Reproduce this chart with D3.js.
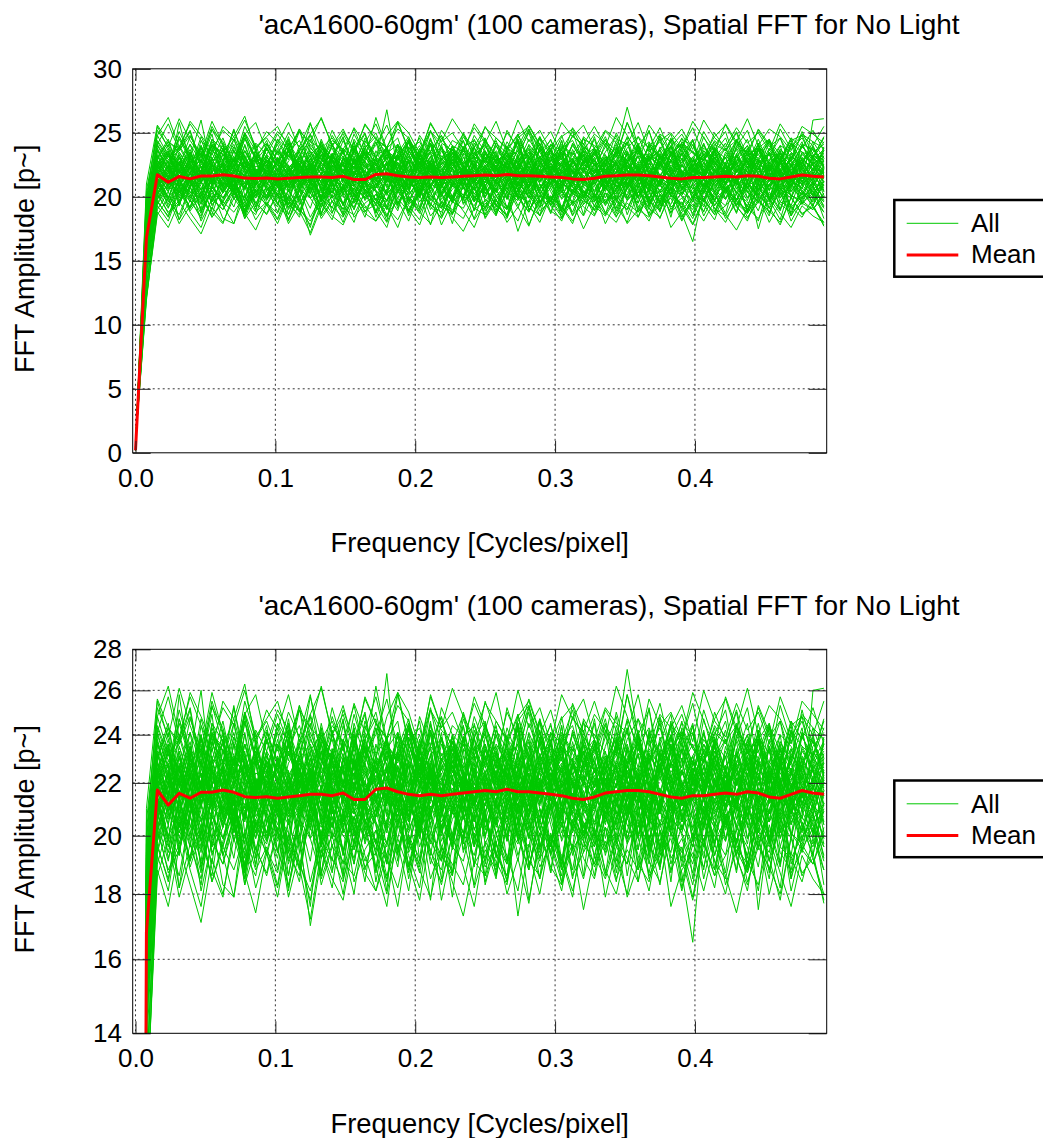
<!DOCTYPE html>
<html><head><meta charset="utf-8">
<script src="https://cdn.jsdelivr.net/npm/d3@7"></script>
<style>body{margin:0;background:#fff}svg text{font-family:"Liberation Sans",Arial,Helvetica,sans-serif;fill:#000}</style>
</head><body><svg id="c" width="1043" height="1138"></svg>
<script>
const titleText = "'acA1600-60gm' (100 cameras), Spatial FFT for No Light";
const xLabel = "Frequency [Cycles/pixel]";
const yLabel = "FFT Amplitude [p~]";
const legendLabels = ["All", "Mean"];
const xTicks = [0, 0.1, 0.2, 0.3, 0.4];
const yTicksLinear = [0, 5, 10, 15, 20, 25, 30];
const yTicksLog = [14, 16, 18, 20, 22, 24, 26, 28];
const freqStep = 1 / 128;

const meanAmp = [0.2, 16.8, 21.72, 21.14, 21.59, 21.40, 21.63, 21.63, 21.72, 21.63, 21.46, 21.43,
  21.46, 21.40, 21.45, 21.50, 21.55, 21.55, 21.50, 21.60, 21.35, 21.35,
  21.75, 21.80, 21.65, 21.55, 21.50, 21.55, 21.50, 21.55, 21.60, 21.65,
  21.70, 21.65, 21.75, 21.65, 21.65, 21.60, 21.55, 21.50, 21.40, 21.35,
  21.45, 21.60, 21.65, 21.70, 21.70, 21.65, 21.55, 21.45, 21.40, 21.50,
  21.50, 21.55, 21.60, 21.55, 21.65, 21.60, 21.45, 21.40, 21.55, 21.70,
  21.60, 21.55];

// amplitude per camera, in tenths of p~, frequency index 0..63
const cameraAmpTenths = [
[4,168,224,209,231,218,205,226,240,212,199,221,208,230,215,197,224,236,211,203,219,228,214,201,233,220,207,225,212,198,222,239,216,204,227,213,200,218,231,209,223,214,197,226,211,235,219,204,228,215,202,220,233,210,224,206,217,229,213,221,208,226,215,219],
[6,152,208,196,214,189,201,220,193,207,185,211,199,216,190,204,223,195,182,209,198,213,187,205,219,194,202,178,210,196,215,200,191,207,184,212,199,221,193,205,188,210,202,195,217,186,208,199,213,190,204,196,222,188,207,193,211,199,185,214,201,197,209,192],
[3,181,236,221,245,229,218,240,226,252,231,215,238,224,247,219,233,241,228,214,237,250,225,239,218,243,230,222,246,234,217,238,229,244,221,236,253,227,215,240,232,224,247,219,235,228,242,216,237,249,223,231,240,226,218,244,233,221,238,229,246,224,235,241],
[5,139,212,198,225,204,191,217,208,226,195,213,201,219,186,207,222,199,210,193,215,204,188,213,226,200,192,218,205,211,197,220,209,186,214,202,224,196,207,190,216,203,211,225,198,206,219,193,212,201,187,165,205,218,199,213,190,208,221,196,210,202,215,197],
[2,197,255,238,224,247,233,259,241,228,250,236,222,245,231,253,239,226,248,234,219,242,257,236,229,245,232,251,238,224,247,233,240,226,252,237,221,246,235,229,254,241,228,244,236,270,239,225,248,233,242,227,251,236,224,245,232,240,228,253,237,246,230,243],
[7,128,197,184,206,191,212,188,179,203,194,186,209,195,183,201,170,192,207,185,198,211,189,176,204,193,182,208,196,187,200,214,183,197,190,206,178,199,211,188,195,202,186,209,193,180,204,197,189,212,184,199,207,191,185,203,196,181,210,194,188,205,192,180],
[4,173,241,226,210,233,219,245,228,214,236,222,209,231,217,240,225,211,234,220,243,216,229,268,221,207,238,224,213,232,218,245,227,212,236,221,209,239,226,215,242,230,218,233,211,227,240,223,208,235,219,231,214,238,225,210,234,221,243,216,229,212,226,233],
[3,160,219,204,231,212,198,225,209,237,201,216,228,194,213,206,222,199,234,211,203,220,207,226,193,215,230,204,218,197,224,211,200,217,233,205,221,196,210,227,202,214,231,199,216,208,223,194,212,229,205,218,196,221,209,234,203,215,198,226,212,207,260,261],
[5,145,215,192,207,224,198,186,212,203,219,195,208,188,214,226,199,205,191,217,202,184,211,197,220,206,189,215,201,223,194,208,186,213,199,221,204,192,218,207,195,211,200,216,189,209,223,197,205,187,214,202,219,193,208,198,212,175,204,190,216,199,207,183],
[6,186,229,214,258,226,211,237,222,208,241,219,232,215,244,221,206,238,227,213,235,249,218,231,210,236,224,246,213,229,220,239,207,233,222,245,216,228,240,211,234,225,219,242,213,230,237,221,209,235,226,244,215,230,238,223,211,236,227,219,242,214,233,225],
[8,119,193,181,205,188,176,199,190,207,183,196,186,202,179,194,208,185,197,180,203,191,199,184,206,190,178,201,193,186,209,182,195,188,203,173,197,185,200,192,179,204,189,198,184,207,193,181,202,188,196,183,205,191,180,199,187,203,192,178,200,186,194,177],
[4,171,222,236,214,231,260,219,242,208,227,215,238,221,209,233,218,245,224,212,230,207,236,219,241,213,226,234,210,239,222,217,231,208,225,243,216,229,211,237,220,233,214,228,239,221,207,232,224,246,213,226,219,235,211,228,240,217,223,209,234,221,212,238],
[5,178,210,224,199,215,206,190,221,213,197,228,204,192,218,209,225,196,212,187,220,206,195,214,203,229,191,210,217,200,224,208,216,197,211,223,189,206,219,201,213,194,222,207,198,215,226,203,190,217,209,221,196,213,205,188,219,210,227,199,212,204,193,216],
[3,194,248,232,219,241,227,253,236,222,245,230,218,243,229,251,235,221,240,226,249,233,224,238,246,220,234,252,228,215,239,244,231,217,237,249,226,242,223,235,211,247,238,225,250,233,219,241,229,244,236,222,247,230,218,239,252,227,234,216,241,229,237,224],
[6,155,203,219,233,207,194,216,225,201,212,189,221,208,197,226,213,200,218,193,229,211,204,190,220,214,199,227,209,196,215,223,202,218,191,210,228,205,197,221,213,186,217,204,225,199,211,230,194,208,220,203,214,197,226,209,192,218,205,231,200,215,208,196],
[4,182,226,209,218,235,212,199,229,221,206,238,215,227,204,219,233,210,224,201,231,216,222,237,213,205,228,219,241,208,225,212,234,217,203,226,214,239,207,222,230,211,225,213,236,209,221,204,227,240,216,223,206,231,218,212,236,205,224,219,229,211,222,228],
[7,141,205,191,213,198,183,209,196,215,187,202,194,210,181,206,199,217,188,203,192,211,197,185,208,201,214,190,204,179,211,196,208,193,186,212,200,191,215,183,205,198,190,207,196,211,184,203,217,192,199,187,209,200,193,214,189,206,198,182,211,195,203,188],
[5,188,231,245,219,226,240,213,234,221,248,217,229,214,238,225,211,243,220,232,216,237,226,212,241,228,219,235,207,230,244,222,215,236,228,210,233,247,221,226,214,239,224,231,218,243,212,229,237,220,233,215,241,225,210,232,222,238,216,229,244,219,230,224],
[4,163,198,215,182,209,224,193,206,217,188,212,201,220,194,186,211,227,199,208,190,215,204,181,219,197,210,225,192,206,214,189,221,200,212,193,207,185,218,204,196,223,199,214,187,208,220,195,211,184,217,206,192,222,203,214,188,209,199,220,185,211,204,196],
[2,201,252,239,261,244,231,255,240,227,249,258,236,251,242,229,257,238,246,233,254,241,230,248,259,237,243,226,252,240,235,257,244,231,250,239,256,241,228,247,253,236,249,242,233,258,240,251,229,245,238,254,232,247,256,241,235,252,239,246,230,249,243,238],
[6,135,202,188,197,214,190,205,183,179,209,195,187,203,196,184,211,192,200,186,207,193,181,198,210,189,204,195,183,201,208,190,197,185,212,199,188,206,193,181,203,196,209,187,200,192,184,207,198,213,189,201,194,182,206,197,188,210,191,203,185,199,208,193],
[5,176,219,234,207,228,215,241,224,211,236,220,227,212,239,218,230,205,224,237,213,229,243,216,225,209,233,221,238,214,226,231,217,240,223,208,229,235,219,244,212,227,234,215,228,221,239,206,231,218,225,213,236,224,211,233,219,242,215,228,206,231,220,236],
[3,190,238,222,247,231,219,243,228,253,226,214,241,229,218,236,248,224,233,215,245,230,262,237,222,244,231,217,239,226,250,235,220,242,229,236,214,247,232,223,240,227,245,218,234,241,226,252,221,238,229,244,217,235,246,223,231,240,219,237,228,251,233,226],
[6,158,195,211,204,220,188,207,199,215,192,209,217,201,186,210,223,197,205,190,214,202,188,216,207,195,221,203,191,212,199,225,206,189,214,201,196,218,187,209,222,200,211,196,205,219,190,213,202,194,216,185,207,221,198,212,204,189,215,207,193,218,200,212],
[4,170,214,228,201,219,236,208,223,212,197,229,210,222,205,231,216,199,227,213,238,204,219,208,233,215,201,226,220,209,234,197,223,213,228,204,218,231,210,225,203,219,236,212,200,225,217,209,232,214,221,198,227,215,231,206,222,213,235,201,218,224,209,221],
[8,122,188,176,196,183,171,192,180,199,187,174,194,182,201,189,172,195,185,178,198,187,181,193,176,200,188,179,195,184,173,191,186,198,180,192,177,201,189,183,196,175,193,185,199,179,190,184,202,176,188,194,181,197,186,174,191,183,199,187,176,193,185,180],
[3,184,243,229,236,251,222,240,233,218,246,231,224,245,237,216,241,229,252,235,221,238,247,226,233,242,219,236,248,228,239,222,244,233,218,249,230,241,225,237,251,226,232,245,221,238,247,229,236,217,243,234,228,240,251,225,237,230,244,221,239,248,229,237],
[5,166,208,223,215,196,229,211,204,219,233,201,216,207,225,194,212,221,203,230,209,198,218,227,205,214,199,223,211,232,206,217,200,213,226,208,221,195,216,209,228,212,204,219,197,225,211,207,233,200,217,223,210,203,218,227,199,214,208,222,204,217,226,205],
[2,205,248,262,239,257,244,233,255,247,263,236,251,242,258,237,249,261,240,253,235,256,245,238,259,250,234,257,243,261,248,239,254,246,237,260,243,252,236,258,247,241,255,239,262,248,233,256,244,250,238,259,246,235,257,243,261,240,253,247,236,255,249,242],
[7,147,196,185,209,191,202,184,198,213,189,205,193,208,182,199,214,187,201,195,180,206,198,191,210,185,203,194,188,209,199,183,207,194,186,212,190,201,197,184,206,192,185,203,198,190,211,186,195,207,182,200,197,188,212,193,181,204,196,209,187,195,190,201],
[4,177,232,214,226,207,221,239,216,228,210,235,219,227,241,212,224,206,230,218,237,215,223,211,234,226,203,229,217,240,213,225,236,220,209,231,222,215,238,207,226,233,214,229,221,206,235,218,227,243,211,224,216,239,225,210,230,223,208,234,219,227,213,230],
[6,150,201,217,193,225,208,196,214,203,188,219,207,194,221,212,199,186,216,205,224,197,210,203,189,218,206,227,195,211,201,215,190,209,221,198,213,204,187,220,208,199,216,193,207,222,200,211,195,218,203,209,188,214,206,197,223,202,191,215,209,198,219,204],
[5,187,225,241,218,234,227,249,213,236,222,230,244,219,232,226,211,238,229,247,216,235,224,239,213,231,246,220,228,237,215,242,226,233,219,245,230,212,236,224,241,227,218,235,248,222,231,214,239,226,233,245,220,231,217,238,226,245,223,236,212,240,228,234],
[3,172,217,204,228,211,196,223,209,230,214,201,225,210,198,219,232,205,216,227,202,213,229,207,221,195,214,226,203,218,210,231,199,222,213,206,227,210,194,219,224,208,215,229,203,218,211,196,226,214,205,221,233,208,219,202,216,228,197,213,225,209,218,214],
[7,131,190,204,182,197,185,208,193,179,201,188,196,183,205,191,178,199,187,210,184,195,202,186,197,181,206,192,184,200,189,176,198,191,183,207,194,180,201,188,197,185,203,179,196,190,208,185,193,199,181,197,189,204,183,195,187,200,180,196,192,184,199,188],
[4,180,228,215,239,223,210,234,219,245,226,213,231,220,242,208,227,236,216,229,222,240,212,233,225,218,238,207,230,221,244,216,229,235,211,226,240,219,232,214,227,236,221,210,237,228,216,242,223,209,234,220,229,243,218,225,212,237,226,232,215,241,224,218],
[6,160,211,197,186,208,219,194,203,215,189,206,198,213,191,204,222,187,209,200,195,216,184,205,218,197,190,211,203,186,214,199,208,192,217,201,188,210,196,223,193,205,199,186,213,204,195,218,189,207,201,192,215,198,206,187,211,200,194,217,190,203,196,209],
[3,199,241,257,236,248,230,252,243,227,255,238,246,233,250,239,258,229,244,237,253,232,240,256,234,247,225,251,242,236,249,231,255,240,228,246,253,235,244,230,248,239,233,251,242,226,247,238,254,233,245,240,229,250,237,244,232,253,241,227,246,238,252,236],
[5,164,206,221,194,213,200,226,208,192,217,204,212,199,223,207,191,218,203,214,197,228,205,193,216,209,224,198,211,187,220,206,214,201,190,219,207,225,196,212,203,217,192,210,220,199,214,205,188,221,208,196,217,204,227,193,210,201,219,190,213,207,199,222],
[4,175,224,209,233,217,240,212,226,219,205,231,216,238,221,210,229,243,214,225,208,236,220,213,231,245,218,206,227,222,239,211,224,232,215,228,207,237,221,230,213,242,226,219,208,234,223,240,212,228,217,231,204,225,238,216,229,211,235,220,226,214,232,219],
[7,126,203,187,195,209,181,198,190,204,185,211,194,179,200,188,207,183,196,191,186,203,210,192,182,199,187,205,178,196,191,208,184,200,193,181,204,189,197,210,186,194,202,188,180,197,206,191,184,201,195,179,199,186,207,192,183,198,188,206,181,197,190,203],
[4,183,237,221,230,214,244,226,218,239,223,233,212,228,245,220,235,217,231,224,240,215,227,238,219,232,210,242,225,234,216,229,241,222,236,213,230,246,218,227,235,221,238,212,229,243,217,232,224,215,239,228,222,236,214,231,245,219,228,240,213,233,226,218],
[5,169,213,199,222,208,229,196,215,206,224,203,219,211,194,226,205,217,200,231,209,214,197,222,210,203,227,193,216,208,221,202,212,225,198,216,207,222,204,189,219,211,226,205,214,197,223,209,218,202,230,206,213,196,221,210,204,227,199,215,208,223,201,217],
[3,192,240,226,251,233,219,245,237,224,249,231,242,228,236,253,221,240,232,246,225,238,250,229,258,236,222,244,231,239,226,248,235,221,243,230,252,238,227,241,233,246,224,239,231,258,236,228,247,222,241,235,229,244,236,250,225,239,232,246,223,241,237,228],
[6,153,209,194,213,202,187,216,199,208,221,192,205,214,197,189,211,203,219,194,207,200,215,190,204,218,196,209,185,213,201,222,197,206,191,215,203,210,198,186,214,205,193,211,202,219,188,207,196,213,200,190,210,197,216,204,193,211,187,208,201,195,212,199],
[4,171,221,235,208,226,213,219,238,204,229,216,224,209,233,218,202,227,215,236,211,223,230,214,221,207,234,219,226,212,239,208,217,229,222,200,231,216,224,211,237,219,213,225,233,208,220,229,214,236,205,222,218,231,210,224,217,237,212,226,220,206,228,215],
[8,121,186,199,179,193,204,184,196,188,201,182,195,187,206,190,181,198,192,184,203,189,194,180,199,188,207,185,196,190,183,201,189,197,184,205,191,186,200,193,181,198,190,203,185,195,188,199,183,206,192,178,197,186,193,202,184,196,189,180,199,187,192,178],
[5,181,217,233,226,211,240,222,214,236,228,209,231,220,215,238,224,207,232,219,243,213,225,236,210,229,221,241,216,227,209,234,222,215,239,226,213,232,220,244,211,228,237,219,226,213,241,224,210,233,218,229,224,212,235,221,206,238,227,215,232,224,217,239],
[5,162,214,200,193,219,206,211,225,198,208,190,216,204,221,197,176,210,203,226,195,213,207,219,191,214,202,224,209,196,218,205,221,193,211,226,199,207,215,189,212,203,196,217,209,201,224,192,213,206,220,198,211,203,187,216,208,223,197,210,204,217,193,212],
[2,210,256,243,237,259,248,236,252,244,260,239,247,255,238,251,243,262,240,249,234,257,245,239,253,246,231,258,243,250,237,254,242,259,236,248,255,240,251,233,247,256,238,252,245,241,258,235,249,243,253,237,260,246,239,254,242,250,236,257,244,248,240,255],
[5,170,218,227,209,223,214,231,206,220,225,212,229,217,208,224,219,233,211,226,215,221,207,228,216,234,213,222,210,227,219,205,224,231,214,220,209,226,218,235,212,223,217,206,229,221,214,232,208,225,219,213,227,216,223,209,231,218,212,226,221,215,230,217],
[4,165,208,219,226,203,215,210,222,198,217,229,205,213,221,200,226,211,218,204,214,223,219,202,210,227,208,216,224,199,213,220,211,225,203,217,209,228,214,206,221,201,214,208,223,211,199,219,226,207,213,218,203,222,210,216,228,205,214,219,200,224,211,207],
[5,183,226,214,235,220,229,211,238,223,216,231,219,236,224,212,230,221,241,215,227,233,214,225,239,218,231,209,226,237,222,216,234,219,228,242,213,225,220,232,211,238,224,230,215,227,236,219,212,229,240,221,216,233,225,219,238,212,227,234,218,229,222,236],
[5,172,221,207,216,230,212,225,203,219,228,210,217,226,208,221,214,233,206,218,224,211,229,213,220,205,227,216,222,209,231,214,208,223,217,229,204,219,226,212,215,232,210,221,227,206,218,213,230,220,207,224,215,228,209,222,217,204,226,213,231,218,210,223],
[4,186,232,219,240,226,214,236,229,245,221,233,225,241,218,230,236,223,212,238,228,220,243,227,216,235,229,242,221,234,225,213,239,230,222,244,217,231,236,224,229,219,235,226,241,214,232,228,245,220,227,236,223,238,215,231,240,225,220,237,229,243,218,232],
[6,158,212,199,221,207,195,216,226,204,211,193,219,208,201,224,213,197,215,206,229,202,210,218,194,212,205,223,200,217,208,226,203,214,222,198,210,207,219,191,215,224,200,213,206,221,195,217,209,202,225,211,198,216,207,213,224,196,210,219,205,212,222,201],
[5,176,225,236,213,228,220,209,233,222,240,216,227,214,235,221,210,229,238,218,224,212,231,222,215,239,226,213,230,219,236,224,211,228,234,217,225,241,215,222,230,209,236,221,227,214,240,219,226,232,211,228,220,235,216,229,223,241,213,227,218,234,225,211],
[5,161,203,216,211,224,198,209,219,205,227,213,200,218,207,214,223,196,211,220,204,216,225,209,199,217,212,228,203,214,221,197,216,206,224,210,202,219,213,226,207,200,221,212,204,227,216,199,210,223,206,215,229,203,218,211,197,220,214,206,224,209,201,217],
[4,180,219,233,226,241,215,228,236,220,231,213,238,224,217,232,245,221,229,214,236,227,220,234,212,229,240,223,216,237,226,231,242,215,228,222,235,211,230,239,218,226,229,216,238,224,213,233,227,240,220,215,234,226,219,243,222,230,214,235,227,221,238,223],
[5,171,214,224,206,231,218,211,227,203,222,216,233,209,220,226,213,237,217,205,228,219,211,225,232,207,219,214,236,222,210,227,218,204,229,221,235,212,223,217,208,230,225,211,219,234,207,226,215,221,238,213,209,227,220,214,231,217,205,229,222,216,213,228],
[6,149,198,211,204,192,216,207,199,213,187,206,215,201,194,210,203,219,196,208,190,212,205,197,214,189,209,201,218,195,207,203,192,213,200,217,206,194,211,199,220,204,196,209,214,198,205,190,212,207,201,216,208,193,206,215,199,211,202,189,214,205,197,210],
[4,189,236,224,247,230,219,241,233,226,250,228,239,222,235,244,227,218,240,231,223,246,232,238,221,243,229,235,248,224,237,230,220,242,234,226,245,231,219,238,244,227,233,247,225,236,221,240,232,229,246,223,238,230,242,219,235,228,244,233,225,239,231,246],
[5,167,226,211,203,219,230,214,208,222,217,199,213,228,218,206,221,212,231,203,216,225,209,218,227,213,201,220,215,229,206,218,223,210,216,232,207,219,224,211,203,221,216,229,208,213,225,219,204,217,230,210,221,207,215,226,212,201,223,218,209,228,214,220],
[4,178,221,232,215,226,238,219,212,230,224,241,216,228,221,235,211,227,233,219,240,223,226,214,230,237,219,225,212,234,228,217,231,223,240,214,226,221,236,209,229,233,218,226,235,220,212,231,224,239,216,227,232,218,225,237,213,229,221,234,217,226,240,222],
[6,154,215,200,208,196,221,211,193,206,218,203,197,212,204,223,209,192,216,201,210,199,207,219,195,211,203,226,198,209,214,190,212,204,217,199,208,221,193,210,205,215,201,194,211,207,219,198,214,203,191,217,209,205,198,222,204,196,213,208,219,194,206,212],
[3,185,230,243,222,235,217,229,246,224,236,218,233,225,241,212,238,229,221,244,226,235,217,236,228,243,222,231,239,215,234,227,245,220,232,226,238,214,241,229,223,236,228,219,244,231,225,238,216,233,241,224,236,228,213,240,227,233,245,219,231,226,239,224],
[5,163,209,221,214,200,226,212,205,219,228,207,216,202,223,211,218,197,229,213,206,220,213,225,204,217,210,232,201,215,222,209,219,212,198,224,216,207,221,203,227,214,205,220,213,229,200,218,211,223,207,216,224,209,217,203,226,214,198,221,212,219,207,224],
[4,175,228,216,222,237,211,225,219,232,207,224,221,235,214,228,219,209,233,224,217,238,226,212,231,219,225,240,214,229,221,211,236,222,217,230,213,226,234,218,228,220,213,231,225,217,237,221,209,228,234,219,226,215,233,220,228,212,237,224,216,230,222,219],
[5,168,205,224,213,232,201,219,227,209,215,236,204,222,210,229,217,198,225,214,208,231,219,203,227,212,236,207,221,215,198,226,213,230,206,218,224,202,215,233,210,221,228,207,220,214,199,230,216,208,225,213,202,219,231,210,216,224,205,228,214,201,222,215],
[3,193,244,231,238,252,226,240,235,247,229,242,233,249,236,225,243,238,230,251,237,228,245,234,241,223,248,235,229,244,239,231,227,246,238,233,250,225,241,236,229,245,240,232,226,247,235,243,230,239,249,234,228,241,236,251,232,238,245,227,242,235,231,247],
[7,142,194,208,201,215,189,203,196,210,183,205,199,213,192,206,184,200,211,195,207,188,202,196,214,187,205,198,191,209,201,193,210,186,204,197,212,192,199,206,185,208,197,203,191,214,199,187,206,201,194,210,185,202,209,196,190,207,198,213,192,200,204,191],
[5,173,217,229,221,210,234,216,224,207,231,219,225,211,228,236,214,222,208,230,218,226,212,233,220,227,209,224,217,235,223,211,229,218,206,225,232,215,221,228,210,236,219,226,213,230,221,208,234,217,225,213,231,220,214,228,207,226,233,216,221,229,211,225],
[5,160,214,206,222,199,212,227,203,216,209,221,198,214,207,225,212,201,218,209,227,205,216,203,211,229,200,217,208,222,213,196,220,211,205,218,227,202,214,209,221,198,215,224,207,212,203,220,196,215,211,226,208,217,202,221,213,206,225,199,216,210,219,204],
[4,182,224,238,216,229,233,212,227,241,219,230,215,236,223,231,209,228,242,220,234,217,229,221,237,214,232,226,219,240,225,213,233,228,215,239,222,230,245,218,226,235,212,229,238,223,217,234,227,213,236,224,242,219,227,232,216,238,222,229,211,235,226,231],
[5,169,220,208,227,214,203,229,217,224,206,221,213,230,209,218,226,204,222,215,232,210,218,226,212,203,230,219,208,225,216,228,205,221,213,233,211,224,218,206,229,215,223,210,219,227,214,205,231,218,209,222,216,229,204,220,226,213,219,231,208,217,225,212],
[6,156,207,219,197,213,224,204,216,209,193,222,211,201,218,207,226,214,199,212,220,205,194,216,209,223,202,214,207,196,219,211,225,203,214,208,192,220,211,217,201,213,209,222,198,215,207,224,203,211,217,200,214,206,223,197,212,218,205,214,226,203,211,199],
[4,187,229,243,235,221,247,230,224,239,232,217,241,228,236,222,249,233,219,238,226,244,231,222,240,233,216,245,229,237,224,239,246,226,234,219,241,229,236,248,223,232,238,225,231,246,220,235,243,228,224,241,219,237,230,244,227,233,221,240,235,226,243,230],
[5,166,211,225,203,218,212,230,207,221,214,199,223,209,216,228,204,219,211,225,201,217,226,212,220,206,218,231,209,214,223,202,215,227,208,219,212,200,224,216,209,229,203,218,225,211,216,208,227,213,202,220,217,224,206,215,229,210,218,203,225,212,208,221],
[4,176,233,219,226,212,238,224,215,231,222,209,229,220,236,214,227,240,218,225,211,234,221,230,215,239,223,212,232,226,217,235,224,210,231,222,237,216,228,233,219,225,238,214,227,221,232,211,225,236,218,229,213,233,222,228,219,242,215,226,234,218,227,221],
[6,151,202,214,196,208,219,199,211,205,190,216,207,198,212,221,203,194,209,217,200,211,193,206,219,202,213,197,208,222,195,210,216,201,207,191,214,205,220,198,209,203,212,196,206,218,200,213,193,207,215,202,198,211,220,203,208,195,214,206,199,217,204,209]
];

const svg = d3.select("#c");
const plotLeft = 132.7, plotRight = 826.7, plotH = 384;
const panelTops = [68.8, 649.3];
const FS = 26;
const x = d3.scaleLinear().domain([-0.002, 0.4942]).range([plotLeft, plotRight]);
const yScales = [
  d3.scaleLinear().domain([0, 30]).range([plotH, 0]),
  d3.scaleLog().domain([14, 28]).range([plotH, 0])
];
const yTickSets = [yTicksLinear, yTicksLog];
const green = "#00c800", red = "#ff0000";

panelTops.forEach((top, pi) => {
  const y = yScales[pi];
  const yt = yTickSets[pi];
  const g = svg.append("g").attr("transform", `translate(0,${top})`);
  g.append("clipPath").attr("id", "clip" + pi).append("rect")
    .attr("x", plotLeft).attr("y", 0).attr("width", plotRight - plotLeft).attr("height", plotH);

  // grid
  g.append("g").selectAll("line").data(xTicks).join("line")
    .attr("x1", d => x(d)).attr("x2", d => x(d)).attr("y1", 0).attr("y2", plotH)
    .attr("stroke", "#333").attr("stroke-width", 1).attr("stroke-dasharray", "2,3");
  g.append("g").selectAll("line").data(yt.slice(1, -1)).join("line")
    .attr("x1", plotLeft).attr("x2", plotRight).attr("y1", d => y(d)).attr("y2", d => y(d))
    .attr("stroke", "#333").attr("stroke-width", 1).attr("stroke-dasharray", "2,3");

  // data
  const line = d3.line().x((d, i) => x(i * freqStep)).y(d => y(d));
  const dg = g.append("g").attr("clip-path", `url(#clip${pi})`);
  dg.selectAll("path.cam").data(cameraAmpTenths).join("path").attr("class", "cam")
    .attr("d", d => line(d.map(v => v / 10)))
    .attr("fill", "none").attr("stroke", green).attr("stroke-width", 1).attr("stroke-linejoin", "miter");
  dg.append("path").datum(meanAmp).attr("d", line)
    .attr("fill", "none").attr("stroke", red).attr("stroke-width", 3).attr("stroke-linejoin", "round");

  // axes
  const ax = [
    g.append("g").attr("transform", `translate(${plotLeft},0)`)
      .call(d3.axisLeft(y).tickValues(yt).tickFormat(d3.format("d")).tickSize(-18).tickPadding(10.7)),
    g.append("g").attr("transform", `translate(${plotRight},0)`)
      .call(d3.axisRight(y).tickValues(yt).tickFormat("").tickSize(-18)),
    g.append("g").attr("transform", `translate(0,${plotH})`)
      .call(d3.axisBottom(x).tickValues(xTicks).tickFormat(d3.format(".1f")).tickSize(-12).tickPadding(15.5)),
    g.append("g").attr("transform", `translate(0,0)`)
      .call(d3.axisTop(x).tickValues(xTicks).tickFormat("").tickSize(-12))
  ];
  ax.forEach(a => {
    a.select(".domain").remove();
    a.attr("font-size", FS).attr("font-family", null);
    a.selectAll(".tick line").attr("stroke", "#222");
  });

  // frame
  g.append("rect").attr("x", plotLeft).attr("y", 0).attr("width", plotRight - plotLeft).attr("height", plotH)
    .attr("fill", "none").attr("stroke", "#000").attr("stroke-width", 1);

  // texts
  g.append("text").attr("x", 609).attr("y", -34.8).attr("text-anchor", "middle")
    .attr("font-size", 28).text(titleText);
  g.append("text").attr("x", (plotLeft + plotRight) / 2).attr("y", plotH + 99.7).attr("text-anchor", "middle")
    .attr("font-size", 27.4).text(xLabel);
  g.append("text").attr("transform", `translate(34,${plotH / 2 - 2}) rotate(-90)`).attr("text-anchor", "middle")
    .attr("font-size", 27).text(yLabel);

  // legend
  const lg = g.append("g").attr("transform", `translate(894.3,${200 - 68.8})`);
  lg.append("rect").attr("x", 0).attr("y", 0).attr("width", 160).attr("height", 76.7)
    .attr("fill", "#fff").attr("stroke", "#000").attr("stroke-width", 2.5);
  const items = [{c: green, w: 1, y: 23.3}, {c: red, w: 3, y: 55}];
  lg.selectAll("line.li").data(items).join("line").attr("class", "li")
    .attr("x1", 12.4).attr("x2", 64).attr("y1", d => d.y).attr("y2", d => d.y)
    .attr("stroke", d => d.c).attr("stroke-width", d => d.w);
  lg.selectAll("text.lt").data(legendLabels).join("text").attr("class", "lt")
    .attr("x", 76.7).attr("y", (d, i) => [32, 63][i]).attr("font-size", FS).text(d => d);
});
</script></body></html>
